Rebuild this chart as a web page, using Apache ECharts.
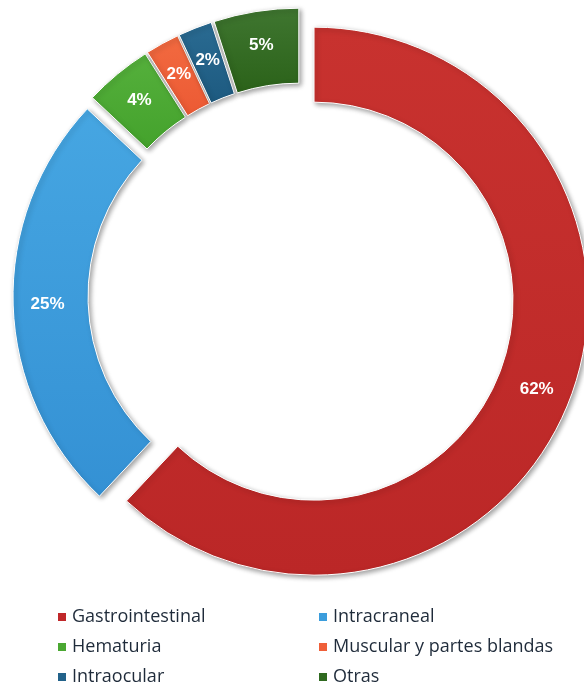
<!DOCTYPE html>
<html>
<head>
<meta charset="utf-8">
<script src="https://cdn.jsdelivr.net/npm/echarts@6/dist/echarts.min.js"></script>
<style>
  html, body { margin: 0; padding: 0; background: #ffffff; }
  #chart { width: 584px; height: 686px; }
</style>
</head>
<body>
<div id="chart"></div>
<script>
// Distribución de hemorragias por localización (%)
const categories = ['Gastrointestinal', 'Intracraneal', 'Hematuria', 'Muscular y partes blandas', 'Intraocular', 'Otras'];
const values = [62, 25, 4, 2, 2, 5];
// top / bottom shade of each slice
const topColors = ['#c8322f', '#46a6e2', '#55b03c', '#f26a40', '#2a6b92', '#3f7630'];
const bottomColors = ['#bb2727', '#3491d4', '#44a22c', '#ec5a34', '#1d5a80', '#2b6219'];
const legendColors = ['#c0282a', '#3b9ddc', '#4aa832', '#ef5f39', '#22628a', '#2f6a20'];

const chart = echarts.init(document.getElementById('chart'), null, { renderer: 'canvas' });

const data = categories.map((name, i) => ({
  name: name,
  value: values[i],
  selected: true,
  itemStyle: {
    color: new echarts.graphic.LinearGradient(0, 0, 0, 1, [
      { offset: 0, color: topColors[i] },
      { offset: 1, color: bottomColors[i] }
    ])
  }
}));

const legendText = { fontFamily: 'Open Sans', fontSize: 18, color: '#1f2b3a' };

// two legend columns: even-indexed categories on the left, odd on the right
function legendColumn(left, parity) {
  return {
    orient: 'vertical', left: left, top: 608, height: 120, padding: 0,
    itemGap: 12, itemWidth: 10, itemHeight: 10, icon: 'rect',
    selectedMode: false,
    data: categories
      .filter((_, i) => i % 2 === parity)
      .map((n) => ({ name: n, itemStyle: { color: legendColors[categories.indexOf(n)] } })),
    textStyle: legendText
  };
}

chart.setOption({
  animation: false,
  legend: [legendColumn(56, 0), legendColumn(317, 1)],
  series: [{
    type: 'pie',
    center: [301, 296],
    radius: [199, 274],
    startAngle: 90,
    clockwise: true,
    selectedMode: 'multiple',
    selectedOffset: 14,
    avoidLabelOverlap: false,
    itemStyle: {
      borderColor: '#ffffff',
      borderWidth: 1,
      shadowColor: 'rgba(0,0,0,0.38)',
      shadowBlur: 5,
      shadowOffsetX: 2,
      shadowOffsetY: 2
    },
    label: {
      show: true,
      position: 'inside',
      formatter: '{c}%',
      color: '#ffffff',
      fontFamily: 'Liberation Sans',
      fontWeight: 'bold',
      fontSize: 17
    },
    labelLine: { show: false },
    emphasis: { disabled: true },
    data: data
  }]
});
</script>
</body>
</html>
